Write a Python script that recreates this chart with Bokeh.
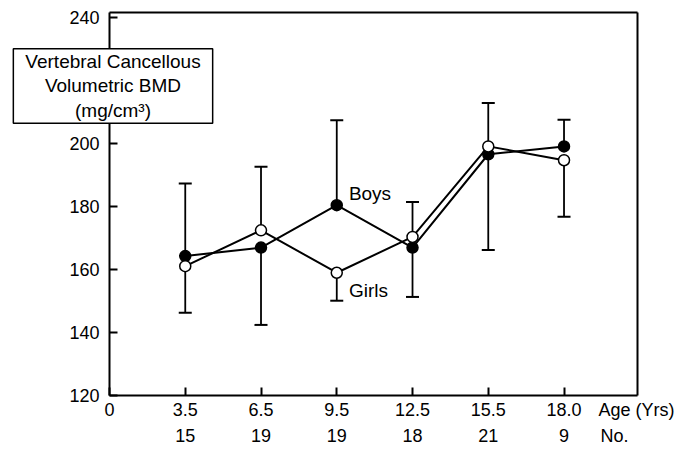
from bokeh.plotting import figure
from bokeh.models import FixedTicker, LinearAxis, Label, Range1d
from bokeh.embed import file_html
from bokeh.resources import INLINE

# ---- data ----
ages = ["3.5", "6.5", "9.5", "12.5", "15.5", "18.0"]
counts = ["15", "19", "19", "18", "21", "9"]
positions = [1, 2, 3, 4, 5, 6]
boys = [164.2, 166.9, 180.4, 166.9, 196.6, 199.1]
girls = [161.0, 172.4, 158.9, 170.3, 199.1, 194.7]
boys_sd_end = [187.3, 142.3, 207.4, 151.2, 166.1, 207.6]
girls_sd_end = [146.2, 192.6, 150.0, 181.4, 212.9, 176.7]
y_ticks = [120, 140, 160, 180, 200, 220, 240]

# ---- layout constants (plot box in data units, pixel geometry) ----
X_END = 6.97          # right edge of the plotting box
Y_BOT, Y_TOP = 120, 241.7
W, H = 697, 450
BOX_L, BOX_R, BOX_T, BOX_B = 109, 637, 12, 394.5   # plotting box in page px
ux = (BOX_R - BOX_L) / X_END
uy = (BOX_B - BOX_T) / (Y_TOP - Y_BOT)
x_start = -BOX_L / ux
x_end = (W - BOX_L) / ux
y_end = Y_TOP + BOX_T / uy
y_start = Y_BOT - (H - BOX_B) / uy

FONT = "Liberation Sans"

p = figure(width=W, height=H,
           x_range=Range1d(x_start, x_end), y_range=Range1d(y_start, y_end),
           output_backend="svg", toolbar_location=None,
           min_border_left=0, min_border_right=0,
           min_border_top=0, min_border_bottom=0)
p.title.visible = False
p.xgrid.visible = False
p.ygrid.visible = False
p.outline_line_color = None
p.background_fill_color = "white"
p.border_fill_color = "white"

# bottom axis at y = 120: ticks and age labels
xa = p.xaxis[0]
xa.fixed_location = Y_BOT
xa.ticker = FixedTicker(ticks=[0] + positions)
ov = {0: "0"}
for i, a in zip(positions, ages):
    ov[i] = a
xa.major_label_overrides = ov
xa.bounds = (0, X_END)
xa.axis_line_width = 2
xa.major_tick_line_width = 2
xa.major_tick_in = 8
xa.major_tick_out = 0
xa.minor_tick_line_color = None
xa.major_label_standoff = 8
xa.major_label_text_font = FONT
xa.major_label_text_font_size = "18px"
xa.major_label_text_color = "black"

# second row: numbers of subjects
ax2 = LinearAxis(fixed_location=Y_BOT, ticker=FixedTicker(ticks=positions),
                 major_label_overrides={i: c for i, c in zip(positions, counts)},
                 bounds=(0, X_END),
                 axis_line_color=None, major_tick_line_color=None,
                 minor_tick_line_color=None, major_tick_in=0, major_tick_out=0,
                 major_label_standoff=34,
                 major_label_text_font=FONT, major_label_text_font_size="18px",
                 major_label_text_color="black")
p.add_layout(ax2, "below")

# y axis at x = 0
ya = p.yaxis[0]
ya.fixed_location = 0
ya.bounds = (Y_BOT, Y_TOP)
ya.ticker = FixedTicker(ticks=y_ticks)
ya.axis_line_width = 2
ya.major_tick_line_width = 2
ya.major_tick_in = 8
ya.major_tick_out = 0
ya.minor_tick_line_color = None
ya.major_label_standoff = 10
ya.major_label_text_font = FONT
ya.major_label_text_font_size = "18px"
ya.major_label_text_color = "black"

# top and right borders of the plotting box
top_ax = LinearAxis(fixed_location=Y_TOP, ticker=FixedTicker(ticks=[]), bounds=(0, X_END),
                    axis_line_width=2, major_tick_line_color=None,
                    minor_tick_line_color=None, major_label_text_font_size="0px",
                    major_label_standoff=0)
p.add_layout(top_ax, "above")
right_ax = LinearAxis(fixed_location=X_END, ticker=FixedTicker(ticks=[]), bounds=(Y_BOT, Y_TOP),
                      axis_line_width=2, major_tick_line_color=None,
                      minor_tick_line_color=None, major_label_text_font_size="0px",
                      major_label_standoff=0)
p.add_layout(right_ax, "right")

# error bars, lines, markers
p.segment(x0=positions, y0=boys, x1=positions, y1=boys_sd_end, line_color="black", line_width=1.8)
p.segment(x0=positions, y0=girls, x1=positions, y1=girls_sd_end, line_color="black", line_width=1.8)
p.line(positions, boys, line_color="black", line_width=2)
p.line(positions, girls, line_color="black", line_width=2)
p.scatter(positions, boys_sd_end, marker="dash", size=13, line_color="black", line_width=2)
p.scatter(positions, girls_sd_end, marker="dash", size=13, line_color="black", line_width=2)
p.scatter(positions, boys, marker="circle", size=11, fill_color="black", line_color="black", line_width=1.5)
p.scatter(positions, girls, marker="circle", size=11, fill_color="white", line_color="black", line_width=1.5)

p.add_layout(Label(x=3.16, y=184.2, text="Boys", text_align="left", text_baseline="middle",
                   text_font=FONT, text_font_size="19px", text_color="black"))
p.add_layout(Label(x=3.16, y=153.1, text="Girls", text_align="left", text_baseline="middle",
                   text_font=FONT, text_font_size="19px", text_color="black"))

# row captions at the right
p.add_layout(Label(x=(598 - BOX_L) / ux, y=Y_BOT - 5 / uy, text="Age (Yrs)",
                   text_align="left", text_baseline="top",
                   text_font=FONT, text_font_size="18px", text_color="black"))
p.add_layout(Label(x=(600 - BOX_L) / ux, y=Y_BOT - 31 / uy, text="No.",
                   text_align="left", text_baseline="top",
                   text_font=FONT, text_font_size="18px", text_color="black"))

# y-axis title box
p.add_layout(Label(x=(112.5 - BOX_L) / ux, y=Y_BOT + (BOX_B - 85.5) / uy,
                   text="Vertebral Cancellous\nVolumetric BMD\n(mg/cm³)",
                   text_align="center", text_baseline="middle",
                   text_font=FONT, text_font_size="19px", text_color="black",
                   text_line_height=1.18,
                   background_fill_color="white", border_line_color="black",
                   border_line_width=1.5, padding=(12, 2)))

open("out.html", "w").write(file_html(p, INLINE))
